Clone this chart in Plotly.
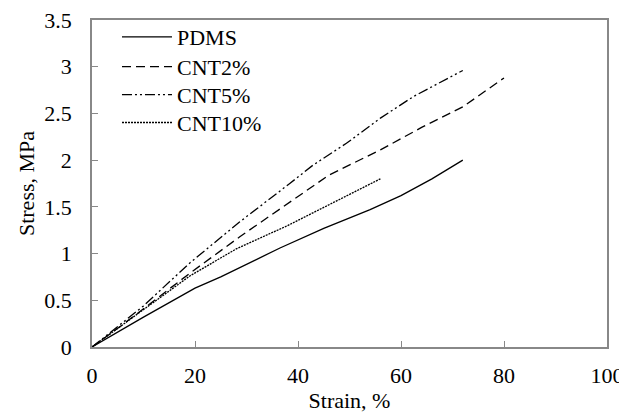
import plotly.graph_objects as go

pdms_x = [0, 5, 10, 20, 25, 36.5, 45, 54, 60, 66, 72]
pdms_y = [0, 0.16, 0.32, 0.63, 0.75, 1.06, 1.27, 1.47, 1.62, 1.80, 2.0]

cnt2_x = [0, 5, 10, 19, 28.7, 38.4, 46, 56, 64, 72, 80]
cnt2_y = [0, 0.20, 0.41, 0.79, 1.18, 1.55, 1.84, 2.11, 2.35, 2.57, 2.88]

cnt5_x = [0, 5, 10, 19, 28.7, 38.4, 43, 49.4, 56, 62.4, 72]
cnt5_y = [0, 0.22, 0.44, 0.90, 1.34, 1.75, 1.95, 2.18, 2.45, 2.68, 2.96]

cnt10_x = [0, 5, 10, 19, 28, 38, 47, 56]
cnt10_y = [0, 0.20, 0.40, 0.76, 1.05, 1.30, 1.55, 1.80]

x_ticks = [0, 20, 40, 60, 80, 100]
y_ticks = [0, 0.5, 1, 1.5, 2, 2.5, 3, 3.5]
y_tick_labels = ["0", "0.5", "1", "1.5", "2", "2.5", "3", "3.5"]

series = [
    ("PDMS", pdms_x, pdms_y, "solid"),
    ("CNT2%", cnt2_x, cnt2_y, "9px,5px"),
    ("CNT5%", cnt5_x, cnt5_y, "10px,3px,2px,3px,2px,3px"),
    ("CNT10%", cnt10_x, cnt10_y, "2px,1px"),
]

SERIF = "Liberation Serif"
FS = 22
font = dict(family=SERIF, size=FS, color="black")

legend_names = ["legend", "legend2", "legend3", "legend4"]
legend_y = [0.948, 0.857, 0.771, 0.686]

fig = go.Figure()
for (name, xs, ys, dash), lg in zip(series, legend_names):
    fig.add_trace(go.Scatter(x=xs, y=ys, mode="lines", name=name, legend=lg,
                             line=dict(color="black", width=1.3, dash=dash)))

legend_common = dict(x=0.0485, xanchor="left", yanchor="middle",
                     bgcolor="rgba(0,0,0,0)", font=dict(family=SERIF, size=FS),
                     itemwidth=50, tracegroupgap=0, borderwidth=0)

# page body has an 8px margin, so the figure is sized to fit the 627x418 window
fig.update_layout(
    width=619, height=410,
    margin=dict(l=84, r=20, t=12, b=71, autoexpand=False),
    paper_bgcolor="white", plot_bgcolor="white",
    font=font,
    showlegend=True,
    xaxis=dict(range=[0, 100], tickvals=x_ticks, ticks="inside", ticklen=6,
               tickcolor="#888", showline=True, linecolor="#888", linewidth=1.5,
               mirror=True, showgrid=False, zeroline=False, automargin=False,
               ticklabelstandoff=8, ticklabeloverflow="allow",
               title=dict(text="Strain, %", standoff=0, font=dict(family=SERIF, size=FS)),
               tickfont=dict(family=SERIF, size=FS)),
    yaxis=dict(range=[0, 3.5], tickvals=y_ticks, ticktext=y_tick_labels,
               ticks="inside", ticklen=6, tickcolor="#888",
               showline=True, linecolor="#888", linewidth=1.5, mirror=True,
               showgrid=False, zeroline=False, automargin=False,
               ticklabelstandoff=14, ticklabeloverflow="allow",
               title=dict(text="Stress, MPa", standoff=4, font=dict(family=SERIF, size=FS)),
               tickfont=dict(family=SERIF, size=FS)),
)
for lg, ly in zip(legend_names, legend_y):
    fig.update_layout({lg: dict(y=ly, **legend_common)})

fig.write_html("out.html")
